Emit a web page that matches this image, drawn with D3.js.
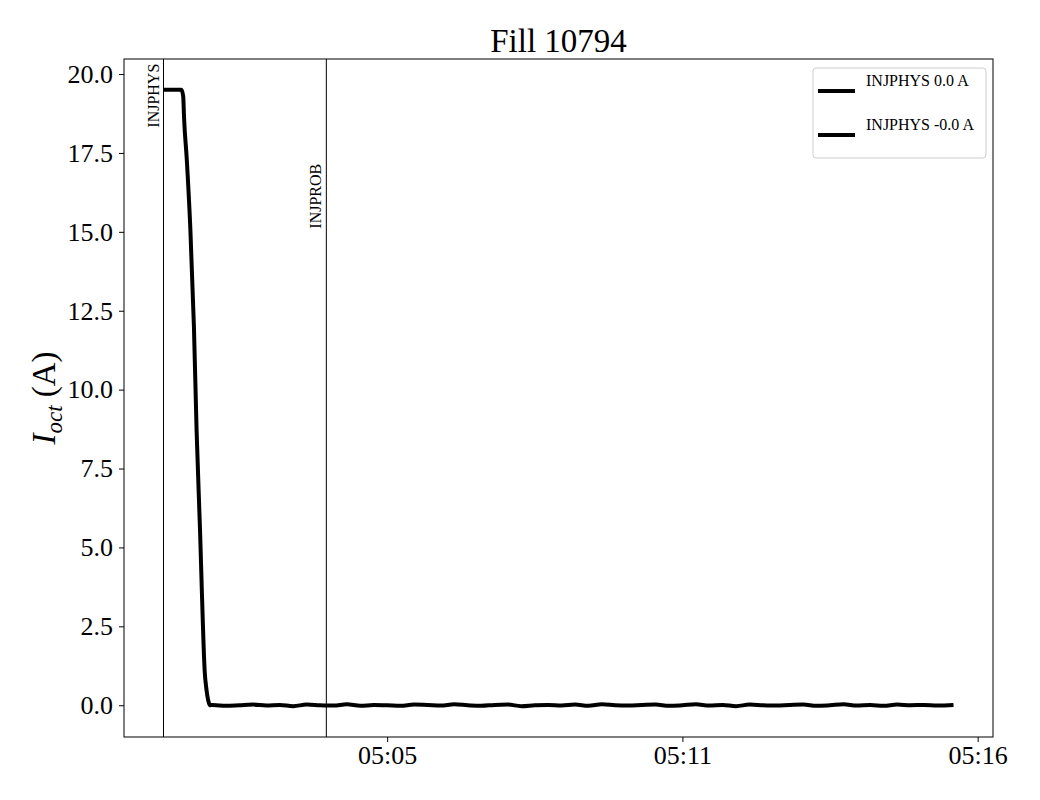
<!DOCTYPE html>
<html>
<head>
<meta charset="utf-8">
<script src="https://cdn.jsdelivr.net/npm/d3@7"></script>
<style>
  body { margin: 0; background: #fff; }
  text { font-family: "Liberation Serif", "Times New Roman", serif; fill: #000; }
</style>
</head>
<body>
<script>
// donnees
const title = "Fill 10794";

const times = [
  "05:01:20", "05:01:40", "05:01:42", "05:01:43", "05:01:46", "05:01:50", "05:01:54",
  "05:01:57", "05:02:01", "05:02:03", "05:02:06", "05:02:08", "05:02:10", "05:02:12",
  "05:02:15", "05:02:30", "05:02:45", "05:03:00", "05:03:15", "05:03:30", "05:03:45", "05:04:00", "05:04:15", "05:04:30",
  "05:04:45", "05:05:00", "05:05:15", "05:05:30", "05:05:45", "05:06:00", "05:06:15", "05:06:30", "05:06:45", "05:07:00",
  "05:07:15", "05:07:30", "05:07:45", "05:08:00", "05:08:15", "05:08:30", "05:08:45", "05:09:00", "05:09:15", "05:09:30",
  "05:09:45", "05:10:00", "05:10:15", "05:10:30", "05:10:45", "05:11:00", "05:11:15", "05:11:30", "05:11:45", "05:12:00",
  "05:12:15", "05:12:30", "05:12:45", "05:13:00", "05:13:15", "05:13:30", "05:13:45", "05:14:00", "05:14:15", "05:14:30",
  "05:14:45", "05:15:00", "05:15:15", "05:15:30", "05:15:45", "05:16:03"
];

const current = [
  19.5, 19.5, 19.3, 18.6, 17.3, 15.1, 12.0,
  8.7, 5.4, 3.5, 1.1, 0.5, 0.15, 0.0,
  0.01, -0.02, 0.00, 0.02, -0.01, 0.01, -0.03, 0.02, 0.00, -0.01,
  0.03, -0.02, 0.01, 0.00, -0.02, 0.02, 0.01, -0.01, 0.03, 0.00,
  -0.02, 0.01, 0.02, -0.03, 0.00, 0.01, -0.01, 0.02, -0.02, 0.03,
  0.00, -0.01, 0.01, 0.02, -0.02, 0.00, 0.03, -0.01, 0.01, -0.03,
  0.02, 0.00, -0.01, 0.01, 0.02, -0.02, 0.00, 0.03, -0.01, 0.01,
  -0.02, 0.02, 0.00, 0.01, -0.01, 0.01
];

const seriesLabels = ["INJPHYS 0.0 A", "INJPHYS -0.0 A"];

// evenements (lignes verticales)
const eventNames = ["INJPHYS", "INJPROB"];
const eventTimes = ["05:01:20", "05:04:22"];
const eventLabelLevels = [18.3, 15.1];

const xTicks = ["05:05:30", "05:11:00", "05:16:30"];
const yTicks = [0, 2.5, 5, 7.5, 10, 12.5, 15, 17.5, 20];

const parse = d3.timeParse("%H:%M:%S");
const data = times.map((t, i) => ({ t: parse(t), v: current[i] }));

const W = 1040, H = 800;
const margin = { top: 59, right: 47, bottom: 63, left: 124 };
const width = W - margin.left - margin.right,
      height = H - margin.top - margin.bottom;

const svg = d3.select("body").append("svg")
  .attr("width", W)
  .attr("height", H);

// marges 5% comme matplotlib
const tExt = d3.extent(data, d => d.t);
const tPad = (tExt[1] - tExt[0]) * 0.05;
const x = d3.scaleTime()
  .domain([new Date(+tExt[0] - tPad), new Date(+tExt[1] + tPad)])
  .range([margin.left, margin.left + width]);

const vExt = d3.extent(data, d => d.v);
const vPad = (vExt[1] - vExt[0]) * 0.05;
const y = d3.scaleLinear()
  .domain([vExt[0] - vPad, vExt[1] + vPad])
  .range([margin.top + height, margin.top]);

// axes
const xAxis = svg.append("g")
  .attr("transform", `translate(0,${margin.top + height})`)
  .call(d3.axisBottom(x).tickValues(xTicks.map(parse)).tickFormat(d3.timeFormat("%H:%M")).tickSize(5).tickPadding(4));
const yAxis = svg.append("g")
  .attr("transform", `translate(${margin.left},0)`)
  .call(d3.axisLeft(y).tickValues(yTicks).tickFormat(d3.format(".1f")).tickSize(5).tickPadding(6));

[xAxis, yAxis].forEach(g => {
  g.select(".domain").remove();
  g.selectAll("line").attr("stroke", "#000");
  g.selectAll("text").style("font-family", '"Liberation Serif", serif').style("font-size", "26px");
});

// lignes verticales des evenements
eventNames.forEach((name, i) => {
  const ex = x(parse(eventTimes[i]));
  svg.append("line")
    .attr("x1", ex).attr("x2", ex)
    .attr("y1", margin.top).attr("y2", margin.top + height)
    .attr("stroke", "#000").attr("stroke-width", 1);
  const ly = y(eventLabelLevels[i]);
  svg.append("text")
    .attr("transform", `translate(${ex - 5},${ly}) rotate(-90)`)
    .style("font-size", "16px")
    .text(name);
});

// courbe
const line = d3.line().x(d => x(d.t)).y(d => y(d.v)).curve(d3.curveMonotoneX);
svg.append("path")
  .datum(data)
  .attr("fill", "none")
  .attr("stroke", "#000")
  .attr("stroke-width", 4)
  .attr("stroke-linejoin", "round")
  .attr("stroke-linecap", "butt")
  .attr("d", line);

// cadre
svg.append("rect")
  .attr("x", margin.left).attr("y", margin.top)
  .attr("width", width).attr("height", height)
  .attr("fill", "none").attr("stroke", "#000").attr("stroke-width", 1);

// titre
svg.append("text")
  .attr("x", margin.left + width / 2)
  .attr("y", 52)
  .attr("text-anchor", "middle")
  .style("font-size", "33px")
  .text(title);

// label axe y
const yl = svg.append("text")
  .attr("transform", `translate(55,${margin.top + height / 2}) rotate(-90)`)
  .attr("text-anchor", "middle")
  .style("font-size", "33px");
yl.append("tspan").style("font-style", "italic").text("I");
yl.append("tspan").style("font-style", "italic").style("font-size", "23px").attr("dy", 7).text("oct");
yl.append("tspan").attr("dy", -7).text(" (A)");

// legende
const lg = svg.append("g").attr("transform", "translate(813,68)");
lg.append("rect")
  .attr("width", 173).attr("height", 90)
  .attr("rx", 3)
  .attr("fill", "#fff").attr("fill-opacity", 0.8)
  .attr("stroke", "#ccc");
seriesLabels.forEach((lab, i) => {
  const ly = 23 + i * 44;
  lg.append("line")
    .attr("x1", 5).attr("x2", 42)
    .attr("y1", ly).attr("y2", ly)
    .attr("stroke", "#000").attr("stroke-width", 4);
  lg.append("text")
    .attr("x", 53).attr("y", ly - 5)
    .style("font-size", "16px")
    .text(lab);
});
</script>
</body>
</html>
